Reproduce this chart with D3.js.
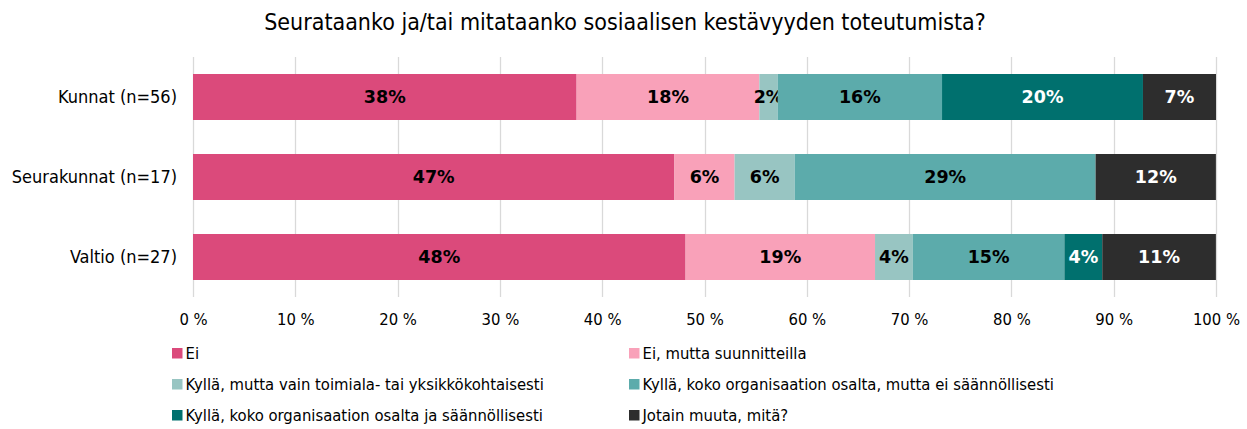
<!DOCTYPE html>
<html>
<head>
<meta charset="utf-8">
<script src="https://cdn.jsdelivr.net/npm/d3@7"></script>
<style>
  body { margin: 0; background: #fff; }
  svg text { font-family: Tahoma, "DejaVu Sans Condensed", "DejaVu Sans", sans-serif; }
  svg text.val { font-family: "DejaVu Sans", sans-serif; }
</style>
</head>
<body>
<svg id="chart" width="1247" height="429"></svg>
<script>
// chart data
const categories = ["Kunnat (n=56)", "Seurakunnat (n=17)", "Valtio (n=27)"];
const seriesNames = [
  "Ei",
  "Ei, mutta suunnitteilla",
  "Kyllä, mutta vain toimiala- tai yksikkökohtaisesti",
  "Kyllä, koko organisaation osalta, mutta ei säännöllisesti",
  "Kyllä, koko organisaation osalta ja säännöllisesti",
  "Jotain muuta, mitä?"
];
const seriesColors = ["#db4a7b", "#f9a1b9", "#98c5c2", "#5cabab", "#00706e", "#2d2d2d"];
const labelColors = ["#000", "#000", "#000", "#000", "#fff", "#fff"];
// percentages per category, in series order
const kunnat = [37.5, 17.86, 1.79, 16.07, 19.64, 7.14];
const seurakunnat = [47.06, 5.88, 5.88, 29.41, 0, 11.76];
const valtio = [48.15, 18.52, 3.70, 14.81, 3.70, 11.11];
const xTicks = [0, 10, 20, 30, 40, 50, 60, 70, 80, 90, 100];
const title = "Seurataanko ja/tai mitataanko sosiaalisen kestävyyden toteutumista?";

const values = [kunnat, seurakunnat, valtio];
const rows = categories.map((c, i) => {
  const r = { category: c };
  seriesNames.forEach((s, j) => r[s] = values[i][j]);
  return r;
});

const margin = { top: 57, right: 31, bottom: 132, left: 193 };
const width = 1247, height = 429;
const svg = d3.select("#chart");

const x = d3.scaleLinear().domain([0, 100]).range([margin.left, width - margin.right]);
const y = d3.scaleBand().domain(categories)
  .range([margin.top, height - margin.bottom])
  .paddingInner(0.425).paddingOuter(0.2125);

const stacked = d3.stack().keys(seriesNames)(rows);

svg.append("text")
  .attr("x", 625).attr("y", 30)
  .attr("text-anchor", "middle")
  .attr("font-size", 23)
  .attr("fill", "#000")
  .text(title);

// gridlines
svg.append("g")
  .selectAll("line")
  .data(xTicks)
  .join("line")
  .attr("x1", d => Math.round(x(d)) + 0.5).attr("x2", d => Math.round(x(d)) + 0.5)
  .attr("y1", margin.top).attr("y2", height - margin.bottom)
  .attr("stroke", "#d9d9d9").attr("stroke-width", 1.3);

// x axis labels
const xAxis = svg.append("g")
  .attr("transform", `translate(0,${height - margin.bottom})`)
  .call(d3.axisBottom(x).tickValues(xTicks).tickSize(0).tickPadding(16).tickFormat(d => d + " %"));
xAxis.select(".domain").remove();
xAxis.selectAll("text").attr("font-size", 16.5).attr("fill", "#000")
  .style("font-family", 'Tahoma, "DejaVu Sans Condensed", "DejaVu Sans", sans-serif');

// y axis labels
const yAxis = svg.append("g")
  .attr("transform", `translate(${margin.left},0)`)
  .call(d3.axisLeft(y).tickSize(0).tickPadding(16));
yAxis.select(".domain").remove();
yAxis.selectAll("text").attr("font-size", 18).attr("fill", "#000")
  .style("font-family", 'Tahoma, "DejaVu Sans Condensed", "DejaVu Sans", sans-serif');

// bars
const layers = svg.append("g")
  .selectAll("g")
  .data(stacked)
  .join("g")
  .attr("fill", (d, i) => seriesColors[i]);

layers.selectAll("rect")
  .data(d => d.map(p => ({ p, key: d.key })))
  .join("rect")
  .attr("x", d => x(d.p[0]))
  .attr("y", d => y(d.p.data.category))
  .attr("width", d => x(d.p[1]) - x(d.p[0]))
  .attr("height", y.bandwidth());

// value labels
layers.each(function (layer, i) {
  d3.select(this).selectAll("text")
    .data(layer.filter(p => p[1] - p[0] > 0))
    .join("text")
    .attr("class", "val")
    .attr("x", p => (x(p[0]) + x(p[1])) / 2)
    .attr("y", p => y(p.data.category) + y.bandwidth() / 2)
    .attr("dy", "0.36em")
    .attr("text-anchor", "middle")
    .attr("font-size", 17.5)
    .attr("font-weight", "bold")
    .attr("fill", labelColors[i])
    .text(p => Math.round(p[1] - p[0]) + "%");
});

// legend
const legendPos = [
  [172, 353], [629, 353],
  [172, 384], [629, 384],
  [172, 415], [629, 415]
];
const legend = svg.append("g")
  .selectAll("g")
  .data(seriesNames)
  .join("g")
  .attr("transform", (d, i) => `translate(${legendPos[i][0]},${legendPos[i][1]})`);
legend.append("rect")
  .attr("x", 0).attr("y", -5).attr("width", 10.5).attr("height", 10.5)
  .attr("fill", (d, i) => seriesColors[i]);
legend.append("text")
  .attr("x", 13.5).attr("y", 0).attr("dy", "0.36em")
  .attr("font-size", 16.5).attr("fill", "#000")
  .text(d => d);
</script>
</body>
</html>
